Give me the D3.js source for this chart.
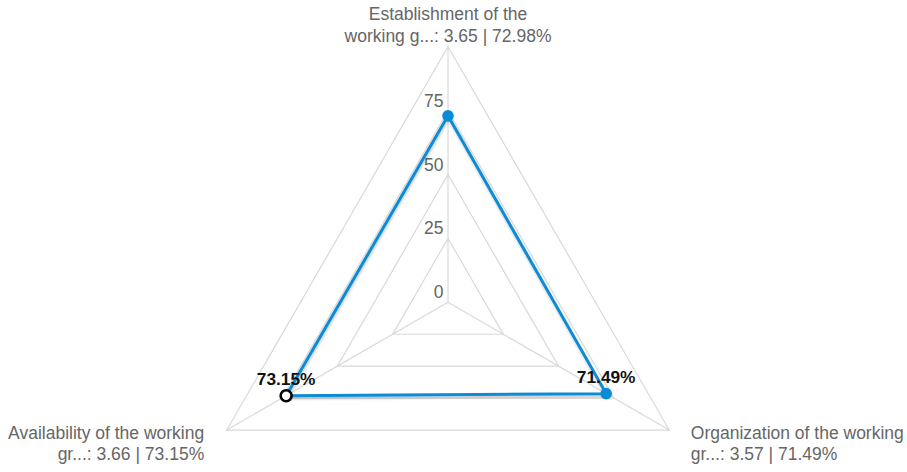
<!DOCTYPE html>
<html>
<head>
<meta charset="utf-8">
<script src="https://cdn.jsdelivr.net/npm/d3@7"></script>
<style>
  html, body { margin: 0; padding: 0; background: #fff; }
  svg { display: block; font-family: Helvetica, Arial, "Liberation Sans", sans-serif; }
  .grid { fill: none; stroke: #d9d9d9; stroke-width: 1.2; }
  .spoke { stroke: #d9d9d9; stroke-width: 1.2; }
  .tick-label { fill: #666; font-size: 17.5px; text-anchor: end; }
  .axis-label { fill: #666; font-size: 17.5px; }
  .data-label { fill: #111; font-size: 17.3px; font-weight: bold; text-anchor: middle; }
</style>
</head>
<body>
<svg id="radar"></svg>
<script>
// radar data
const categories = ['Establishment of the working g...', 'Organization of the working gr...', 'Availability of the working gr...'];
const scores = [3.65, 3.57, 3.66];
const percents = [72.98, 71.49, 73.15];
const levels = [0, 25, 50, 75, 100];
const tickLabels = ['0', '25', '50', '75'];

const width = 907, height = 472;
const cx = 448, cy = 302.3, radius = 255.5;
const activeIndex = 2; // hovered point (hollow marker)

const svg = d3.select('#radar')
  .attr('width', width)
  .attr('height', height);

const r = d3.scaleLinear().domain([0, 100]).range([0, radius]);
const angle = (i) => -Math.PI / 2 + i * 2 * Math.PI / categories.length;
const pt = (i, v) => [cx + r(v) * Math.cos(angle(i)), cy + r(v) * Math.sin(angle(i))];

const line = d3.line().curve(d3.curveLinearClosed);

// grid
svg.append('g').selectAll('path')
  .data(levels.slice(1))
  .enter().append('path')
  .attr('class', 'grid')
  .attr('d', (lv) => line(categories.map((c, i) => pt(i, lv))));

svg.append('g').selectAll('line')
  .data(categories)
  .enter().append('line')
  .attr('class', 'spoke')
  .attr('x1', cx).attr('y1', cy)
  .attr('x2', (d, i) => pt(i, 100)[0])
  .attr('y2', (d, i) => pt(i, 100)[1]);

// tick labels along the top spoke
svg.append('g').selectAll('text')
  .data(tickLabels)
  .enter().append('text')
  .attr('class', 'tick-label')
  .attr('x', cx - 4.5)
  .attr('y', (d) => cy - r(+d) - 4)
  .text((d) => d);

// axis labels, wrapped
const axisText = categories.map((c, i) => c + ': ' + scores[i].toFixed(2) + ' | ' + percents[i].toFixed(2) + '%');
const measure = svg.append('text').attr('class', 'axis-label').attr('visibility', 'hidden');
const wrap = (str, maxW) => {
  const words = str.split(' ');
  const lines = [];
  let cur = '';
  words.forEach((w) => {
    const test = cur ? cur + ' ' + w : w;
    measure.text(test);
    if (cur && measure.node().getComputedTextLength() > maxW) {
      lines.push(cur);
      cur = w;
    } else {
      cur = test;
    }
  });
  if (cur) lines.push(cur);
  return lines;
};
const lineH = 21.8;

axisText.forEach((t, i) => {
  const lines = wrap(t, 219);
  const [vx, vy] = pt(i, 100);
  const c = Math.cos(angle(i));
  let anchor, x, y0;
  if (Math.abs(c) < 0.01) {
    anchor = 'middle';
    x = vx;
    y0 = vy - 5 - (lines.length - 1) * lineH;
  } else {
    anchor = c > 0 ? 'start' : 'end';
    x = vx + (c > 0 ? 21.5 : -22.5);
    y0 = vy + 8.6;
  }
  svg.append('text')
    .attr('class', 'axis-label')
    .attr('text-anchor', anchor)
    .selectAll('tspan')
    .data(lines)
    .enter().append('tspan')
    .attr('x', x)
    .attr('y', (d, k) => y0 + k * lineH)
    .text((d) => d);
});
measure.remove();

// series
const defs = svg.append('defs');
defs.append('filter')
  .attr('id', 'shadow')
  .attr('x', '-10%').attr('y', '-10%').attr('width', '120%').attr('height', '120%')
  .append('feDropShadow')
  .attr('dx', 0.5).attr('dy', 2).attr('stdDeviation', 0.8)
  .attr('flood-color', '#000').attr('flood-opacity', 0.22);

const pts = percents.map((v, i) => pt(i, v));

svg.append('path')
  .attr('d', line(pts))
  .attr('fill', 'none')
  .attr('stroke', '#0a8bd6')
  .attr('stroke-width', 3)
  .attr('stroke-linejoin', 'round')
  .attr('filter', 'url(#shadow)');

svg.append('g').selectAll('circle')
  .data(pts)
  .enter().append('circle')
  .attr('cx', (d) => d[0])
  .attr('cy', (d) => d[1])
  .attr('r', (d, i) => i === activeIndex ? 5.5 : 5.8)
  .attr('fill', (d, i) => i === activeIndex ? '#fff' : '#0a8bd6')
  .attr('stroke', (d, i) => i === activeIndex ? '#000' : 'none')
  .attr('stroke-width', 2.6);

// data labels (top one is hidden, it collides with the 75 tick)
svg.append('g').selectAll('text')
  .data(pts.map((p, i) => ({p, i})).filter((d) => d.i !== 0))
  .enter().append('text')
  .attr('class', 'data-label')
  .attr('x', (d) => d.p[0])
  .attr('y', (d) => d.p[1] - 10.5)
  .text((d) => percents[d.i].toFixed(2) + '%');
</script>
</body>
</html>
